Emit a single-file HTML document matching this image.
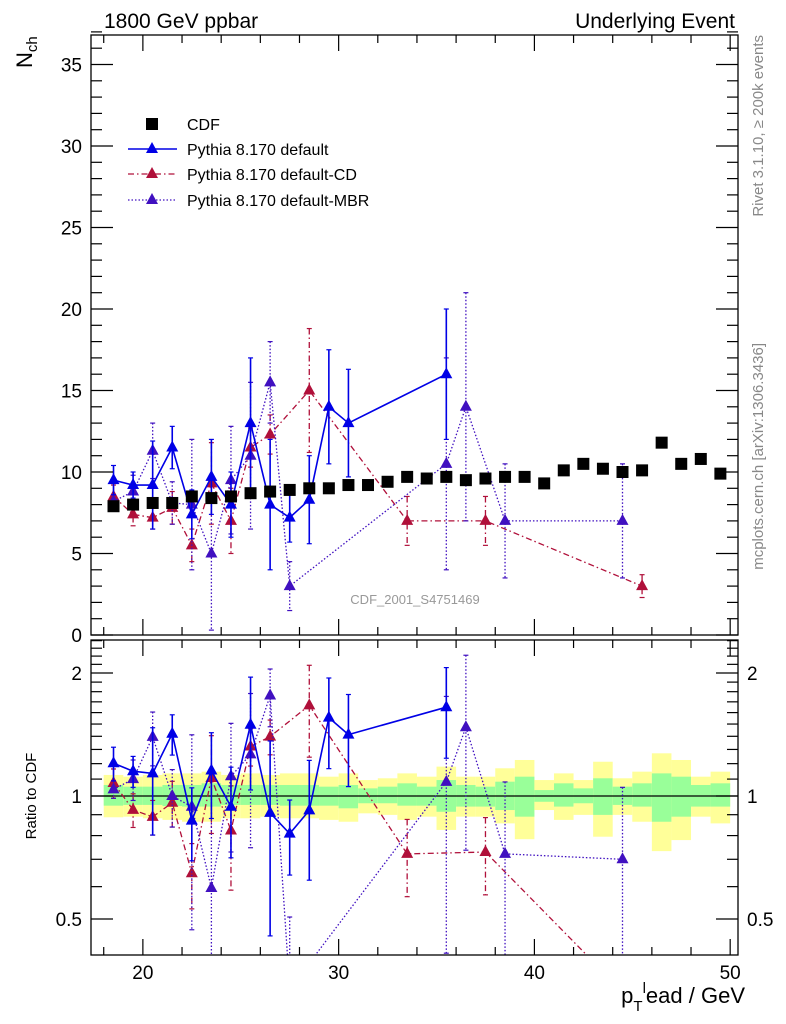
<!DOCTYPE html>
<html><head><meta charset="utf-8"><style>
html,body{margin:0;padding:0;background:#fff;width:786px;height:1024px;overflow:hidden}
svg{display:block;font-family:"Liberation Sans",Arial,sans-serif}
</style></head><body>
<svg id="chart" width="786" height="1024" viewBox="0 0 786 1024" xmlns="http://www.w3.org/2000/svg" overflow="hidden">
<defs>
<clipPath id="clipMain"><rect x="91" y="35" width="647" height="600"/></clipPath>
<clipPath id="clipRatio"><rect x="91" y="640" width="647" height="315"/></clipPath>
</defs>
<g id="bands" clip-path="url(#clipRatio)"></g>
<g id="marksMain" clip-path="url(#clipMain)"></g>
<g id="marksRatio" clip-path="url(#clipRatio)"></g>
<g id="axes"></g>
<text x="104" y="28" font-size="21">1800 GeV ppbar</text>
<text x="735" y="28" font-size="21" text-anchor="end">Underlying Event</text>
<text transform="translate(32,68) rotate(-90)" font-size="22">N<tspan font-size="15" dy="5">ch</tspan></text>
<text transform="translate(36,796) rotate(-90)" font-size="15" text-anchor="middle">Ratio to CDF</text>
<text x="745" y="1003" font-size="22" text-anchor="end">p<tspan font-size="15" dy="8">T</tspan><tspan font-size="15" dy="-18">l</tspan><tspan dy="10">ead / GeV</tspan></text>
<text transform="translate(763,35) rotate(-90)" font-size="15" fill="#888" text-anchor="end">Rivet 3.1.10, ≥ 200k events</text>
<text transform="translate(763,343) rotate(-90)" font-size="15" fill="#888" text-anchor="end">mcplots.cern.ch [arXiv:1306.3436]</text>
<text x="415" y="604" font-size="13" fill="#999" text-anchor="middle">CDF_2001_S4751469</text>
<g>
<rect x="146" y="118" width="12" height="12" fill="#000"/>
<text x="187" y="130" font-size="16">CDF</text>
<line x1="128" y1="149" x2="177" y2="149" stroke="#0000e6" stroke-width="1.5"/>
<polygon points="152,142 146,153 158,153" fill="#0000e6"/>
<text x="187" y="155" font-size="16">Pythia 8.170 default</text>
<line x1="128" y1="174" x2="177" y2="174" stroke="#b0103a" stroke-width="1.3" stroke-dasharray="6,3,1.5,3"/>
<polygon points="152,167 146,178 158,178" fill="#b0103a"/>
<text x="187" y="180" font-size="16">Pythia 8.170 default-CD</text>
<line x1="128" y1="200" x2="177" y2="200" stroke="#4010c0" stroke-width="1.3" stroke-dasharray="1.5,2"/>
<polygon points="152,193 146,204 158,204" fill="#4010c0"/>
<text x="187" y="206" font-size="16">Pythia 8.170 default-MBR</text>
</g>
</svg>
<script>
// ---- data ----
const cdfX = [18.5,19.5,20.5,21.5,22.5,23.5,24.5,25.5,26.5,27.5,28.5,29.5,30.5,31.5,32.5,33.5,34.5,35.5,36.5,37.5,38.5,39.5,40.5,41.5,42.5,43.5,44.5,45.5,46.5,47.5,48.5,49.5];
const cdfY = [7.9,8.0,8.1,8.1,8.5,8.4,8.5,8.7,8.8,8.9,9.0,9.0,9.2,9.2,9.4,9.7,9.6,9.7,9.5,9.6,9.7,9.7,9.3,10.1,10.5,10.2,10.0,10.1,11.8,10.5,10.8,9.9];
const bandGreenUp = [1.064,1.054,1.054,1.064,1.064,1.074,1.064,1.064,1.064,1.064,1.064,1.054,1.064,1.044,1.054,1.074,1.054,1.094,1.064,1.054,1.084,1.115,1.034,1.074,1.044,1.105,1.054,1.074,1.136,1.115,1.064,1.074];
const bandGreenDn = [0.947,0.951,0.951,0.945,0.942,0.942,0.951,0.951,0.951,0.947,0.947,0.947,0.933,0.960,0.960,0.947,0.947,0.915,0.942,0.942,0.924,0.890,0.968,0.942,0.960,0.899,0.951,0.942,0.865,0.890,0.942,0.942];
const bandYellowUp = [1.126,1.115,1.126,1.136,1.136,1.147,1.126,1.136,1.126,1.136,1.136,1.115,1.136,1.094,1.105,1.136,1.115,1.180,1.115,1.115,1.169,1.225,1.094,1.136,1.094,1.213,1.105,1.147,1.272,1.225,1.115,1.147];
const bandYellowDn = [0.887,0.890,0.882,0.874,0.865,0.865,0.882,0.882,0.890,0.882,0.882,0.874,0.865,0.907,0.899,0.874,0.890,0.826,0.890,0.890,0.857,0.784,0.924,0.874,0.899,0.795,0.899,0.865,0.733,0.780,0.890,0.857];

const defX = [18.5,19.5,20.5,21.5,22.5,23.5,24.5,25.5,26.5,27.5,28.5,29.5,30.5,35.5];
const defY = [9.5,9.2,9.2,11.5,7.4,9.7,8.0,13.0,8.0,7.2,8.3,14.0,13.0,16.0];
const defE = [0.9,0.8,2.7,1.3,1.5,2.3,2.0,4.0,4.0,1.5,2.7,3.5,3.3,4.0];

const cdX = [18.5,19.5,20.5,21.5,22.5,23.5,24.5,25.5,26.5,28.5,33.5,37.5,45.5];
const cdY = [8.5,7.4,7.2,7.8,5.5,9.3,7.0,11.5,12.3,15.0,7.0,7.0,3.0];
const cdE = [0.7,0.7,0.7,1.0,1.0,2.5,2.0,1.2,1.2,3.8,1.5,1.5,0.7];

const mbrX = [18.5,19.5,20.5,21.5,22.5,23.5,24.5,25.5,26.5,27.5,35.5,36.5,38.5,44.5];
const mbrY = [8.2,8.8,11.3,8.1,8.0,5.0,9.5,11.0,15.5,3.0,10.5,14.0,7.0,7.0];
const mbrE = [0.4,1.0,1.7,1.3,4.0,4.7,3.3,4.5,2.5,1.5,6.5,7.0,3.5,3.5];

const xTickLabels = [20,30,40,50];
const yTickLabels = [0,5,10,15,20,25,30,35];
const ratioTickLabels = [0.5,1,2];

// ---- axes ----
const X0=91, X1=738, XMIN=17.35, XMAX=50.4;
const sx = v => X0 + (v-XMIN)/(XMAX-XMIN)*(X1-X0);
const sy = v => 635 - Math.max(0,Math.min(v,37.5))*16.3;
const sr = v => 796 - Math.log10(Math.max(0.35,Math.min(v,2.45)))*408.6;
const NS="http://www.w3.org/2000/svg";
function mk(tag, attrs, parent){const e=document.createElementNS(NS,tag);for(const k in attrs)e.setAttribute(k,attrs[k]);parent.appendChild(e);return e;}
const gB=document.getElementById('bands'), gM=document.getElementById('marksMain'), gR=document.getElementById('marksRatio'), gA=document.getElementById('axes');

cdfX.forEach((x,i)=>{
  const a=sx(x-0.5), b=sx(x+0.5);
  const y=mk('rect',{x:a,y:sr(bandYellowUp[i]),width:b-a,height:sr(bandYellowDn[i])-sr(bandYellowUp[i]),fill:'#ffff99'},gB);
  
  
  const g=mk('rect',{x:a,y:sr(bandGreenUp[i]),width:b-a,height:sr(bandGreenDn[i])-sr(bandGreenUp[i]),fill:'#99ff99'},gB);
  
  
});
mk('line',{x1:X0,y1:sr(1),x2:X1,y2:sr(1),stroke:'#000','stroke-width':1.3},gB);

const srRaw = v => 796 - Math.log10(v)*408.6;
function series(xs,ys,es,color,dash,width,name){
  const pts=xs.map((x,i)=>sx(x)+','+sy(ys[i])).join(' ');
  const l=mk('polyline',{points:pts,fill:'none',stroke:color,'stroke-width':width,'stroke-dasharray':dash},gM);
  
  
  const ci=xs.map(x=>cdfX.indexOf(x));
  const rv=ys.map((y,i)=>y/cdfY[ci[i]]);
  const re=es.map((e,i)=>e/cdfY[ci[i]]);
  const pr=xs.map((x,i)=>sx(x)+','+srRaw(rv[i])).join(' ');
  const lr=mk('polyline',{points:pr,fill:'none',stroke:color,'stroke-width':width,'stroke-dasharray':dash},gR);
  
  
  xs.forEach((x,i)=>{
    const X=sx(x);
    [[gM,sy(ys[i]),sy(ys[i]+es[i]),sy(ys[i]-es[i])],[gR,sr(rv[i]),sr(rv[i]+re[i]),sr(rv[i]-re[i])]].forEach(([g,yc,yt,yb])=>{
      mk('line',{x1:X,y1:yt,x2:X,y2:yb,stroke:color,'stroke-width':width,'stroke-dasharray':dash},g);
      mk('line',{x1:X-2.5,y1:yt,x2:X+2.5,y2:yt,stroke:color,'stroke-width':1.2},g);
      mk('line',{x1:X-2.5,y1:yb,x2:X+2.5,y2:yb,stroke:color,'stroke-width':1.2},g);
      const t=mk('polygon',{points:`${X},${yc-7} ${X-6},${yc+4} ${X+6},${yc+4}`,fill:color},g);
      
      
    });
  });
}
series(cdX,cdY,cdE,'#b0103a','6,3,1.5,3',1.3,'default-cd');
series(mbrX,mbrY,mbrE,'#4010c0','1.5,2',1.3,'default-mbr');
series(defX,defY,defE,'#0000e6','none',1.6,'default');

cdfX.forEach((x,i)=>{
  const r=mk('rect',{x:sx(x)-6,y:sy(cdfY[i])-6,width:12,height:12,fill:'#000'},gM);
  
  
});

[[35,635],[640,955]].forEach(([t,b])=>{
  mk('rect',{x:X0,y:t,width:X1-X0,height:b-t,fill:'none',stroke:'#000','stroke-width':1.3},gA);
  for(let v=18;v<=50;v+=2){
    const maj=v%10===0, L=maj?16:8, X=sx(v);
    mk('line',{x1:X,y1:b,x2:X,y2:b-L,stroke:'#000','stroke-width':1.2},gA);
    mk('line',{x1:X,y1:t,x2:X,y2:t+L,stroke:'#000','stroke-width':1.2},gA);
  }
});
for(let v=0;v<=37;v++){
  const maj=v%5===0, L=maj?22:11, Y=sy(v);
  mk('line',{x1:X0,y1:Y,x2:X0+L,y2:Y,stroke:'#000','stroke-width':1.2},gA);
  mk('line',{x1:X1,y1:Y,x2:X1-L,y2:Y,stroke:'#000','stroke-width':1.2},gA);
}
yTickLabels.forEach(v=>{
  const t=mk('text',{x:82,y:sy(v)+7,'font-size':19,'text-anchor':'end'},gA);
  t.textContent=v;
  
  
});
const rmin=[0.5,0.6,0.7,0.8,0.9,1,1.1,1.2,1.3,1.4,1.5,1.6,1.7,1.8,1.9,2,2.1,2.2,2.3,2.4];
rmin.forEach(v=>{
  const maj=ratioTickLabels.includes(v), L=maj?22:11, Y=sr(v);
  mk('line',{x1:X0,y1:Y,x2:X0+L,y2:Y,stroke:'#000','stroke-width':1.2},gA);
  mk('line',{x1:X1,y1:Y,x2:X1-L,y2:Y,stroke:'#000','stroke-width':1.2},gA);
});
ratioTickLabels.forEach(v=>{
  const t=mk('text',{x:82,y:sr(v)+7,'font-size':19,'text-anchor':'end'},gA);
  t.textContent=v;
  
  
  const t2=mk('text',{x:747,y:sr(v)+7,'font-size':19},gA);
  t2.textContent=v;
  
  
});
xTickLabels.forEach(v=>{
  const t=mk('text',{x:sx(v),y:979,'font-size':19,'text-anchor':'middle'},gA);
  t.textContent=v;
  
  
});
</script>
</body></html>
